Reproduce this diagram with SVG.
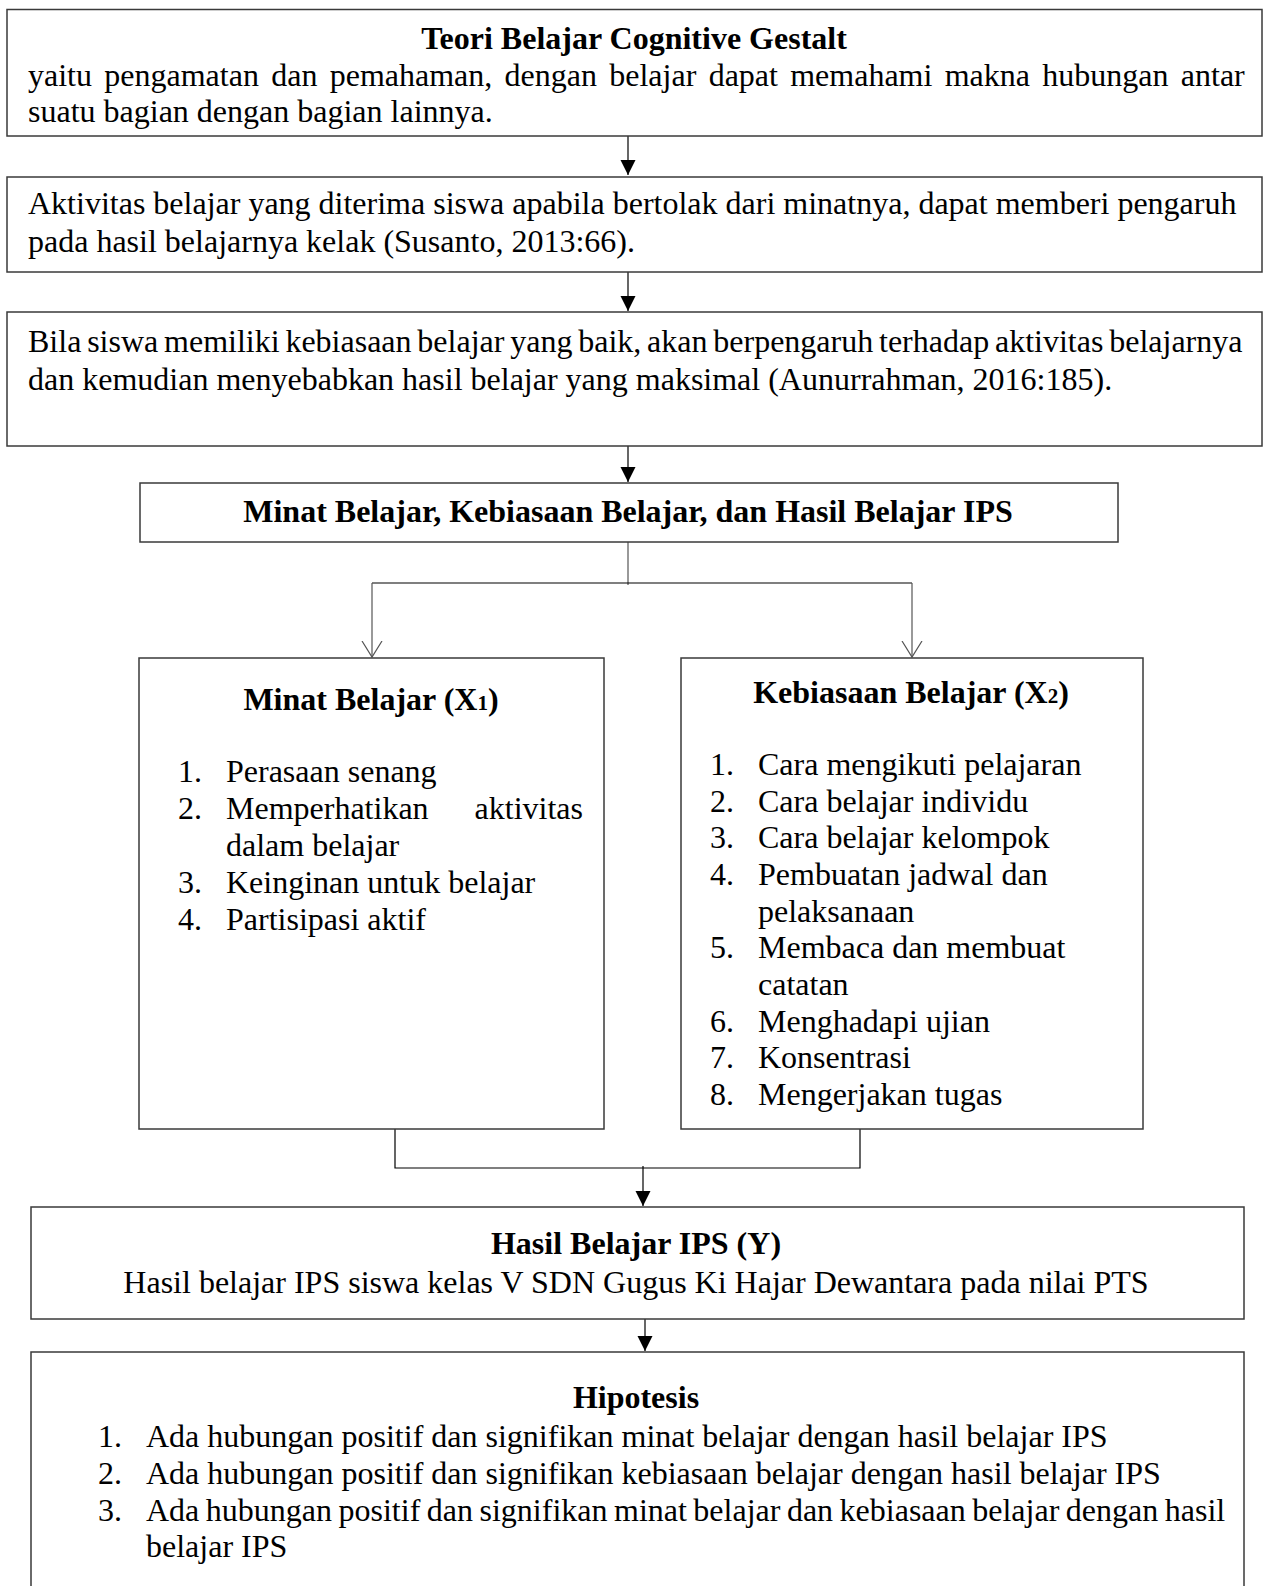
<svg xmlns="http://www.w3.org/2000/svg" width="1268" height="1586" viewBox="0 0 1268 1586">
<style>
  .box { fill: #fff; stroke: #3a3a3a; stroke-width: 1.5; }
  .t { font-family: "Liberation Serif", "Times New Roman", serif; font-size: 32px; fill: #000; }
  .b { font-weight: bold; }
  .c { text-anchor: middle; }
  .e { text-anchor: end; }
  .ln { stroke: #000; stroke-width: 1.2; fill: none; }
  .lg { stroke: #555; stroke-width: 1.2; fill: none; }
</style>
<defs>
  <marker id="fill" markerUnits="userSpaceOnUse" markerWidth="16" markerHeight="16" refX="15" refY="7.5" orient="auto">
    <path d="M0,0 L15,7.5 L0,15 z" fill="#000"/>
  </marker>
  <marker id="open" markerUnits="userSpaceOnUse" markerWidth="18" markerHeight="22" refX="16" refY="11" orient="auto">
    <path d="M0,1 L16,11 L0,21" fill="none" stroke="#555" stroke-width="1.2"/>
  </marker>
</defs>
<rect width="1268" height="1586" fill="#fff"/>

<g id="connectors">
  <line class="ln" x1="628" y1="136" x2="628" y2="175" marker-end="url(#fill)"/>
  <line class="ln" x1="628" y1="272" x2="628" y2="311" marker-end="url(#fill)"/>
  <line class="ln" x1="628" y1="446" x2="628" y2="482" marker-end="url(#fill)"/>
  <line class="lg" x1="628" y1="542" x2="628" y2="585"/>
  <line class="ln" x1="372" y1="583" x2="912" y2="583"/>
  <line class="lg" x1="372" y1="583" x2="372" y2="657" marker-end="url(#open)"/>
  <line class="lg" x1="912" y1="583" x2="912" y2="657" marker-end="url(#open)"/>
  <polyline class="ln" points="395,1129 395,1168 860,1168 860,1129"/>
  <line class="ln" x1="643" y1="1166" x2="643" y2="1206" marker-end="url(#fill)"/>
  <line class="ln" x1="645" y1="1319" x2="645" y2="1351" marker-end="url(#fill)"/>
</g>

<g id="teori">
  <rect class="box" x="7" y="9.5" width="1255" height="126.5"/>
  <text class="t b c" x="634" y="49">Teori Belajar Cognitive Gestalt</text>
  <text class="t" x="28" y="86" word-spacing="4.3">yaitu pengamatan dan pemahaman, dengan belajar dapat memahami makna hubungan antar</text>
  <text class="t" x="28" y="122">suatu bagian dengan bagian lainnya.</text>
</g>

<g id="aktivitas">
  <rect class="box" x="7" y="177" width="1255" height="95"/>
  <text class="t" x="28" y="214">Aktivitas belajar yang diterima siswa apabila bertolak dari minatnya, dapat memberi pengaruh</text>
  <text class="t" x="28" y="252">pada hasil belajarnya kelak (Susanto, 2013:66).</text>
</g>

<g id="kebiasaan-teori">
  <rect class="box" x="7" y="312" width="1255" height="134"/>
  <text class="t" x="28" y="352" word-spacing="-2.2">Bila siswa memiliki kebiasaan belajar yang baik, akan berpengaruh terhadap aktivitas belajarnya</text>
  <text class="t" x="28" y="390">dan kemudian menyebabkan hasil belajar yang maksimal (Aunurrahman, 2016:185).</text>
</g>

<g id="variabel">
  <rect class="box" x="140" y="483" width="978" height="59"/>
  <text class="t b c" x="628" y="522">Minat Belajar, Kebiasaan Belajar, dan Hasil Belajar IPS</text>
</g>

<g id="minat">
  <rect class="box" x="139" y="658" width="465" height="471"/>
  <text class="t b c" x="371" y="710">Minat Belajar (X<tspan font-size="21">1</tspan>)</text>
  <text class="t" x="178" y="782">1.</text><text class="t" x="226" y="782">Perasaan senang</text>
  <text class="t" x="178" y="819">2.</text><text class="t" x="226" y="819">Memperhatikan</text><text class="t e" x="583" y="819">aktivitas</text>
  <text class="t" x="226" y="856">dalam belajar</text>
  <text class="t" x="178" y="893">3.</text><text class="t" x="226" y="893">Keinginan untuk belajar</text>
  <text class="t" x="178" y="930">4.</text><text class="t" x="226" y="930">Partisipasi aktif</text>
</g>

<g id="kebiasaan">
  <rect class="box" x="681" y="658" width="462" height="471"/>
  <text class="t b c" x="911" y="703">Kebiasaan Belajar (X<tspan font-size="21">2</tspan>)</text>
  <text class="t" x="710" y="775">1.</text><text class="t" x="758" y="775">Cara mengikuti pelajaran</text>
  <text class="t" x="710" y="812">2.</text><text class="t" x="758" y="812">Cara belajar individu</text>
  <text class="t" x="710" y="848">3.</text><text class="t" x="758" y="848">Cara belajar kelompok</text>
  <text class="t" x="710" y="885">4.</text><text class="t" x="758" y="885">Pembuatan jadwal dan</text>
  <text class="t" x="758" y="922">pelaksanaan</text>
  <text class="t" x="710" y="958">5.</text><text class="t" x="758" y="958">Membaca dan membuat</text>
  <text class="t" x="758" y="995">catatan</text>
  <text class="t" x="710" y="1032">6.</text><text class="t" x="758" y="1032">Menghadapi ujian</text>
  <text class="t" x="710" y="1068">7.</text><text class="t" x="758" y="1068">Konsentrasi</text>
  <text class="t" x="710" y="1105">8.</text><text class="t" x="758" y="1105">Mengerjakan tugas</text>
</g>

<g id="hasil">
  <rect class="box" x="31" y="1207" width="1213" height="112"/>
  <text class="t b c" x="636" y="1254">Hasil Belajar IPS (Y)</text>
  <text class="t c" x="636" y="1293">Hasil belajar IPS siswa kelas V SDN Gugus Ki Hajar Dewantara pada nilai PTS</text>
</g>

<g id="hipotesis">
  <rect class="box" x="31" y="1352" width="1213" height="250"/>
  <text class="t b c" x="636" y="1408">Hipotesis</text>
  <text class="t" x="98" y="1447">1.</text><text class="t" x="146" y="1447">Ada hubungan positif dan signifikan minat belajar dengan hasil belajar IPS</text>
  <text class="t" x="98" y="1484">2.</text><text class="t" x="146" y="1484">Ada hubungan positif dan signifikan kebiasaan belajar dengan hasil belajar IPS</text>
  <text class="t" x="98" y="1521">3.</text><text class="t" x="146" y="1521" word-spacing="-1.5">Ada hubungan positif dan signifikan minat belajar dan kebiasaan belajar dengan hasil</text>
  <text class="t" x="146" y="1557">belajar IPS</text>
</g>
</svg>
